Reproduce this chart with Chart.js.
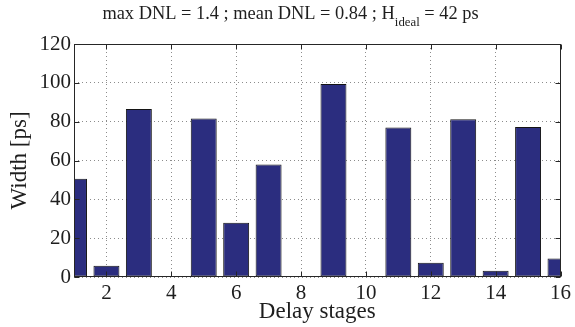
<!DOCTYPE html>
<html>
<head>
<meta charset="utf-8">
<script src="https://cdn.jsdelivr.net/npm/chart.js@4/dist/chart.umd.min.js"></script>
<style>
  html, body { margin: 0; padding: 0; background: #fff; }
  #wrap { width: 575px; height: 327px; }
</style>
</head>
<body>
<div id="wrap"><canvas id="c" width="575" height="327"></canvas></div>
<script>
const stages = [1, 2, 3, 4, 5, 6, 7, 8, 9, 10, 11, 12, 13, 14, 15, 16];
const widths = [50.6, 5.8, 86.5, 0, 81.6, 28, 58, 0, 99.4, 0, 77, 7.3, 81.2, 3.2, 77.3, 9.5];
const xTicks = [2, 4, 6, 8, 10, 12, 14, 16];
const yTicks = [0, 20, 40, 60, 80, 100, 120];
const titleMain = 'max DNL = 1.4 ; mean DNL = 0.84 ; H';
const titleSub = 'ideal';
const titleEnd = ' = 42 ps';
const xLabel = 'Delay stages';
const yLabel = 'Width [ps]';

const FONT = '"Liberation Serif", "Times New Roman", serif';
const TEXT = '#1e1e1e';

const framePlugin = {
  id: 'frame',
  afterDraw(chart) {
    const {ctx, chartArea: a, scales: {x, y}} = chart;
    ctx.save();
    ctx.strokeStyle = '#262626';
    ctx.lineWidth = 1;
    const L = Math.round(a.left) + 0.5, R = Math.round(a.right) - 0.5;
    const T = Math.round(a.top) + 0.5, B = Math.round(a.bottom) - 0.5;
    ctx.strokeRect(L, T, R - L, B - T);
    const tl = 5;
    ctx.beginPath();
    xTicks.forEach(v => {
      const px = Math.round(x.getPixelForValue(v)) + 0.5;
      ctx.moveTo(px, B); ctx.lineTo(px, B - tl);
      ctx.moveTo(px, T); ctx.lineTo(px, T + tl);
    });
    yTicks.forEach(v => {
      const py = Math.round(y.getPixelForValue(v)) + 0.5;
      ctx.moveTo(L, py); ctx.lineTo(L + tl, py);
      ctx.moveTo(R, py); ctx.lineTo(R - tl, py);
    });
    ctx.stroke();
    // title with subscript
    ctx.fillStyle = TEXT;
    ctx.textBaseline = 'alphabetic';
    ctx.textAlign = 'left';
    const mainFont = '18.4px ' + FONT, subFont = '12.8px ' + FONT;
    ctx.font = mainFont;
    const w1 = ctx.measureText(titleMain).width;
    const w3 = ctx.measureText(titleEnd).width;
    ctx.font = subFont;
    const w2 = ctx.measureText(titleSub).width;
    const total = w1 + w2 + w3;
    let sx = 290.5 - total / 2;
    const by = 19;
    ctx.font = mainFont;
    ctx.fillText(titleMain, sx, by);
    sx += w1;
    ctx.font = subFont;
    ctx.fillText(titleSub, sx, by + 7);
    sx += w2;
    ctx.font = mainFont;
    ctx.fillText(titleEnd, sx, by);
    ctx.restore();
  }
};

new Chart(document.getElementById('c'), {
  type: 'bar',
  data: {
    datasets: [{
      data: stages.map((s, i) => ({x: s, y: widths[i]})),
      backgroundColor: '#2b2d7f',
      borderColor: '#141414',
      borderWidth: 1,
      borderSkipped: false,
      barPercentage: 0.8,
      categoryPercentage: 1.0
    }]
  },
  options: {
    responsive: false,
    animation: false,
    devicePixelRatio: 1,
    layout: { padding: { left: 0, right: 11, top: 44, bottom: 0 } },
    plugins: { legend: { display: false }, tooltip: { enabled: false }, title: { display: false } },
    scales: {
      x: {
        type: 'linear',
        offset: false,
        min: 1, max: 16,
        afterBuildTicks(s) { s.ticks = xTicks.map(v => ({value: v})); },
        afterFit(s) { s.height = 50; },
        border: { display: false, dash: [1, 3] },
        grid: { color: '#8c8c8c', lineWidth: 1, drawTicks: false, offset: false },
        ticks: { color: TEXT, font: { family: FONT, size: 21 }, padding: 4, maxRotation: 0, autoSkip: false },
        title: { display: true, text: xLabel, color: TEXT, font: { family: FONT, size: 23 }, padding: { top: 0, bottom: 1 } }
      },
      y: {
        min: 0, max: 120,
        afterBuildTicks(s) { s.ticks = yTicks.map(v => ({value: v})); },
        afterFit(s) { s.width = 74; },
        border: { display: false, dash: [1, 3] },
        grid: { color: '#8c8c8c', lineWidth: 1, drawTicks: false },
        ticks: { color: TEXT, font: { family: FONT, size: 21 }, padding: 3 },
        title: { display: true, text: yLabel, color: TEXT, font: { family: FONT, size: 23 }, padding: { top: 6.4, bottom: 0 } }
      }
    }
  },
  plugins: [framePlugin]
});
</script>
</body>
</html>
